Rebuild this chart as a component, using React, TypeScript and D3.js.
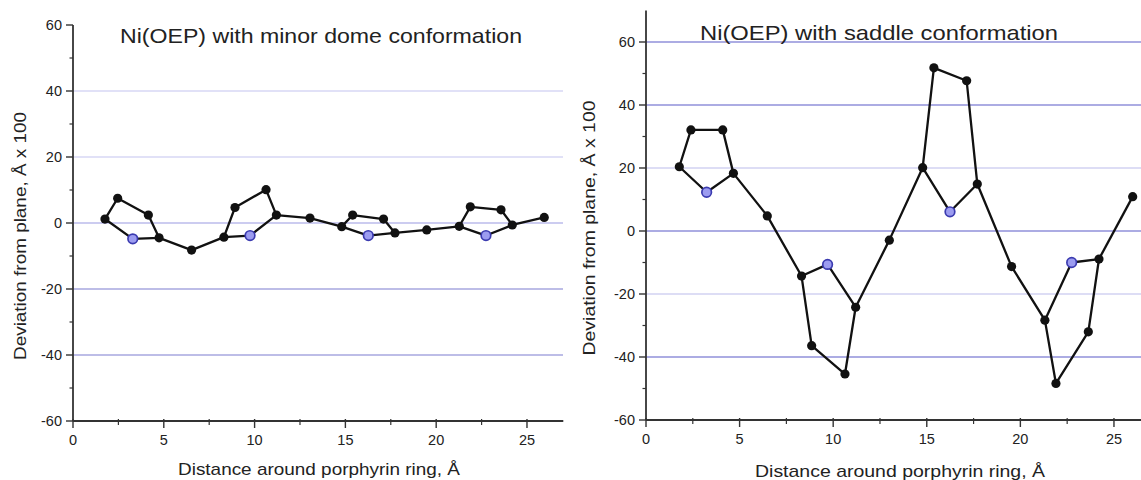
import React from "react";
import * as d3 from "d3";

// Atom sequence per pyrrole: Ca, Cb, Cb, Ca, N, then the following meso carbon
const domeX = [1.76, 2.46, 4.15, 4.74, 3.29, 6.53, 8.31, 8.92, 10.63, 11.2, 9.75, 13.05, 14.8, 15.4, 17.1, 17.73, 16.26, 19.48, 21.27, 21.88, 23.57, 24.19, 22.74, 25.95];
const domeY = [1.2, 7.5, 2.4, -4.5, -4.8, -8.2, -4.3, 4.7, 10.1, 2.4, -3.8, 1.5, -1.1, 2.4, 1.2, -3.0, -3.8, -2.1, -1.0, 4.9, 4.0, -0.6, -3.8, 1.7];
const saddleX = [1.78, 2.4, 4.1, 4.67, 3.24, 6.48, 8.31, 8.85, 10.63, 11.2, 9.7, 13.0, 14.78, 15.38, 17.13, 17.7, 16.24, 19.53, 21.31, 21.9, 23.63, 24.2, 22.74, 26.0];
const saddleY = [20.4, 32.1, 32.1, 18.3, 12.3, 4.8, -14.3, -36.4, -45.4, -24.2, -10.6, -2.9, 20.1, 51.8, 47.7, 14.9, 6.1, -11.3, -28.3, -48.4, -32.0, -8.9, -10.0, 10.9];

const xTicks = [0, 5, 10, 15, 20, 25];
const xMinor = [2.5, 7.5, 12.5, 17.5, 22.5];
const domeYTicks = [-60, -40, -20, 0, 20, 40, 60];
const saddleYTicks = [-60, -40, -20, 0, 20, 40, 60];
const yMinor = [-50, -30, -10, 10, 30, 50];
const domeGrid = [40, 20, 0, -20, -40];
const saddleGrid = [60, 40, 20, 0, -20, -40];

const titles = ["Ni(OEP) with minor dome conformation", "Ni(OEP) with saddle conformation"];
const xLabel = "Distance around porphyrin ring, Å";
const yLabel = "Deviation from plane, Å x 100";

const FONT = "'Liberation Sans', Arial, Helvetica, sans-serif";

type PanelProps = {
  xs: number[]; ys: number[];
  xRange: [number, number]; xDomain: [number, number];
  yDomain: [number, number]; yRange: [number, number];
  yTicks: number[]; grid: number[]; gridColor: (v: number) => string; gridEnd: number;
  title: string; titleX: number; titleY: number; titleLen: number;
  xlabX: number; xlabY: number; xlabLen: number;
  ylabX: number; ylabY: number; ylabLen: number;
};

function Panel(p: PanelProps) {
  const x = d3.scaleLinear().domain(p.xDomain).range(p.xRange);
  const y = d3.scaleLinear().domain(p.yDomain).range(p.yRange);
  const x0 = p.xRange[0];
  const yb = y(p.yDomain[0]);
  const line = d3.line<number>().x((i) => x(p.xs[i])).y((i) => y(p.ys[i]));
  const ringLine = d3.line<number>().x((i) => x(p.xs[i])).y((i) => y(p.ys[i])).curve(d3.curveLinearClosed);
  const nRings = Math.floor(p.xs.length / 6);
  const rings: number[][] = [];
  const links: number[][] = [];
  for (let k = 0; k < nRings; k++) {
    rings.push([6 * k, 6 * k + 1, 6 * k + 2, 6 * k + 3, 6 * k + 4]);
    const seg = [6 * k + 3, 6 * k + 5];
    if (6 * k + 6 < p.xs.length) seg.push(6 * k + 6);
    links.push(seg);
  }
  const idx = p.xs.map((_, i) => i);
  const isN = (i: number) => i % 6 === 4;
  return (
    <g>
      {p.grid.map((v) => (
        <line key={"g" + v} x1={x0} x2={p.gridEnd} y1={y(v)} y2={y(v)} stroke={p.gridColor(v)} strokeWidth={1.2} />
      ))}
      {/* axes */}
      <line x1={x0} x2={x0} y1={y(p.yDomain[1])} y2={yb} stroke="#333" strokeWidth={1.8} />
      <line x1={x0} x2={p.xRange[1]} y1={yb} y2={yb} stroke="#333" strokeWidth={1.8} />
      {p.yTicks.map((v) => (
        <g key={"yt" + v}>
          <line x1={x0 - 7} x2={x0} y1={y(v)} y2={y(v)} stroke="#333" strokeWidth={1.4} />
          <text x={x0 - 11} y={y(v)} dy="0.35em" textAnchor="end" fontSize={14.5} fontFamily={FONT} fill="#222">{v}</text>
        </g>
      ))}
      {yMinor.filter((v) => v > p.yDomain[0] && v < p.yDomain[1]).map((v) => (
        <line key={"ym" + v} x1={x0 - 3.5} x2={x0} y1={y(v)} y2={y(v)} stroke="#333" strokeWidth={1.2} />
      ))}
      {xTicks.map((v) => (
        <g key={"xt" + v}>
          <line x1={x(v)} x2={x(v)} y1={yb - 2} y2={yb + 7} stroke="#333" strokeWidth={1.4} />
          <text x={x(v)} y={yb + 24} textAnchor="middle" fontSize={14.5} fontFamily={FONT} fill="#222">{v}</text>
        </g>
      ))}
      {xMinor.map((v) => (
        <line key={"xm" + v} x1={x(v)} x2={x(v)} y1={yb - 2} y2={yb + 4} stroke="#333" strokeWidth={1.2} />
      ))}
      {/* structure */}
      {rings.map((r, k) => (
        <path key={"r" + k} d={ringLine(r) || ""} fill="none" stroke="#111" strokeWidth={2.3} strokeLinejoin="round" />
      ))}
      {links.map((s, k) => (
        <path key={"l" + k} d={line(s) || ""} fill="none" stroke="#111" strokeWidth={2.3} strokeLinejoin="round" />
      ))}
      {idx.filter((i) => !isN(i)).map((i) => (
        <circle key={"c" + i} cx={x(p.xs[i])} cy={y(p.ys[i])} r={4.6} fill="#111" />
      ))}
      {idx.filter(isN).map((i) => (
        <circle key={"n" + i} cx={x(p.xs[i])} cy={y(p.ys[i])} r={4.8} fill="#9c9cf0" stroke="#3b3bb0" strokeWidth={1.7} />
      ))}
      {/* texts */}
      <text x={p.titleX} y={p.titleY} fontSize={21} fontFamily={FONT} fill="#222" textLength={p.titleLen} lengthAdjust="spacingAndGlyphs">{p.title}</text>
      <text x={p.xlabX} y={p.xlabY} fontSize={17} fontFamily={FONT} fill="#222" textLength={p.xlabLen} lengthAdjust="spacingAndGlyphs">{xLabel}</text>
      <text transform={`translate(${p.ylabX},${p.ylabY}) rotate(-90)`} textAnchor="middle" fontSize={17} fontFamily={FONT} fill="#222" textLength={p.ylabLen} lengthAdjust="spacingAndGlyphs">{yLabel}</text>
    </g>
  );
}

export default function App() {
  return (
    <div style={{ position: "absolute", left: 0, top: 0 }}>
      <svg width={1141} height={480} style={{ display: "block", background: "#fff" }}>
        <Panel
          xs={domeX} ys={domeY}
          xDomain={[0, 27]} xRange={[73, 563.3]}
          yDomain={[-60, 60]} yRange={[421, 25]}
          yTicks={domeYTicks} grid={domeGrid}
          gridColor={(v) => (v > 0 ? "#c4c4f0" : v === 0 ? "#9a9ae2" : "#7c7cd0")}
          gridEnd={563}
          title={titles[0]} titleX={120} titleY={43} titleLen={402}
          xlabX={178} xlabY={475} xlabLen={282}
          ylabX={26} ylabY={236} ylabLen={248}
        />
        <Panel
          xs={saddleX} ys={saddleY}
          xDomain={[0, 27]} xRange={[646, 1151.4]}
          yDomain={[-60, 70]} yRange={[420, 10.5]}
          yTicks={saddleYTicks} grid={saddleGrid}
          gridColor={(v) => (v === 20 || v === -20 ? "#bcbcec" : "#5a5ac8")}
          gridEnd={1141}
          title={titles[1]} titleX={700} titleY={40} titleLen={358}
          xlabX={755} xlabY={477} xlabLen={290}
          ylabX={595} ylabY={228} ylabLen={255}
        />
      </svg>
    </div>
  );
}
